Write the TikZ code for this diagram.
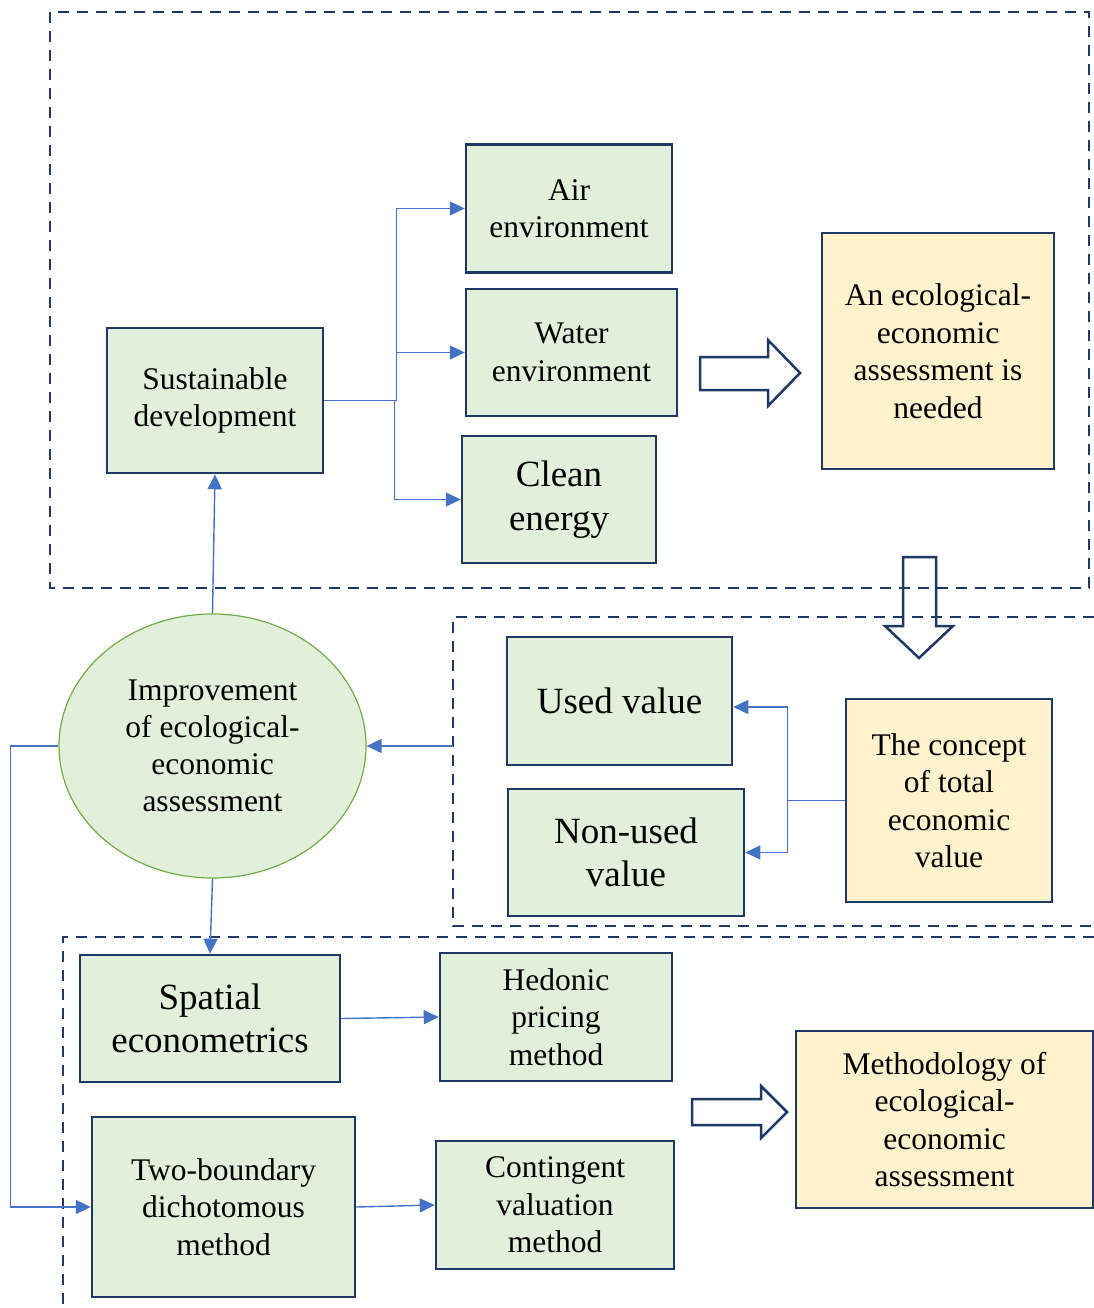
\documentclass[tikz,border=0pt]{standalone}
\usepackage{fontspec}
\setmainfont{Liberation Serif}
\usetikzlibrary{arrows.meta,shapes.geometric}
\definecolor{navy}{HTML}{1F3864}
\definecolor{lgreen}{HTML}{E2EFDA}
\definecolor{lyellow}{HTML}{FFF2CC}
\definecolor{cblue}{HTML}{4472C4}
\definecolor{egreen}{HTML}{70AD47}
\begin{document}
\begin{tikzpicture}[x=1pt,y=-1pt,
  gbox/.style={draw=navy, line width=2.5pt, fill=lgreen, align=center, inner sep=0pt,
    font=\fontsize{31.5}{37.5}\selectfont},
  ybox/.style={gbox, fill=lyellow},
  bigtext/.style={font=\fontsize{37}{43.5}\selectfont},
  conn/.style={draw=cblue, line width=1.4pt, -{Triangle[length=15pt,width=14pt]}},
  dashbox/.style={draw=navy, line width=2.7pt, dash pattern=on 11pt off 8pt},
  blockarrow/.style={draw=navy, line width=2.5pt, line join=miter}]
\useasboundingbox (0,0) rectangle (1094,1308);

% nodes
\node[gbox, minimum width=206pt, minimum height=128pt] (air) at (569,208.5) {Air\\environment};
\node[gbox, minimum width=211pt, minimum height=127pt] (water) at (571.5,352.5) {Water\\environment};
\node[gbox, bigtext, minimum width=194pt, minimum height=127pt] (clean) at (559,499.5) {Clean\\energy};
\node[gbox, minimum width=216pt, minimum height=145pt] (sus) at (215,400.5) {Sustainable\\development};
\node[ybox, minimum width=232pt, minimum height=236pt] (need) at (938,351) {An ecological-\\economic\\assessment is\\needed};
\node[ellipse, draw=egreen, line width=1.2pt, fill=lgreen, inner sep=0pt, align=center,
  minimum width=307pt, minimum height=264pt, font=\fontsize{31.5}{37}\selectfont] (ell) at (212.5,746)
  {Improvement\\of ecological-\\economic\\assessment};
\node[gbox, bigtext, minimum width=225pt, minimum height=128pt] (used) at (619.5,701) {Used value};
\node[gbox, bigtext, minimum width=236pt, minimum height=127pt] (nonused) at (626,852.5) {Non-used\\value};
\node[ybox, minimum width=206pt, minimum height=203pt] (concept) at (949,800.5) {The concept\\of total\\economic\\value};
\node[gbox, bigtext, minimum width=260pt, minimum height=127pt] (spatial) at (210,1018.5) {Spatial\\econometrics};
\node[gbox, minimum width=232pt, minimum height=128pt] (hedonic) at (556,1017) {Hedonic\\pricing\\method};
\node[gbox, minimum width=263pt, minimum height=180pt] (two) at (223.5,1207) {Two-boundary\\dichotomous\\method};
\node[gbox, minimum width=238pt, minimum height=128pt] (cont) at (555,1205) {Contingent\\valuation\\method};
\node[ybox, minimum width=297pt, minimum height=177pt] (meth) at (944.5,1119.5) {Methodology of\\ecological-\\economic\\assessment};

% block arrows
\draw[blockarrow] (700,357) -- (768,357) -- (768,340) -- (800,373) -- (768,406) -- (768,390) -- (700,390) -- cycle;
\draw[blockarrow] (903,557) -- (936,557) -- (936,626) -- (953,626) -- (919,658) -- (885,626) -- (903,626) -- cycle;
\draw[blockarrow] (692,1099) -- (761,1099) -- (761,1086) -- (787,1112) -- (761,1138) -- (761,1125) -- (692,1125) -- cycle;

% dashed frames
\draw[dashbox] (50,12) rectangle (1089,588);
\draw[dashbox] (1094,617) -- (453,617) -- (453,926) -- (1094,926);
\draw[dashbox] (1094,937) -- (63,937) -- (63,1308);

% connectors
\coordinate (m2) at (453,746);
\coordinate (uy) at (0,707);
\draw[conn] (sus.east) -- ++(72,0) |- (air.west);
\draw[conn] (sus.east) -- ++(72,0) |- (water.west);
\draw[conn] (sus.east) -- ++(70,0) |- (clean.west);
\draw[conn] (ell.north) -- (sus.south);
\draw[conn] (m2) -- (ell.east);
\draw[conn] (concept.west) -- ++(-57,0) |- (used.east |- uy);
\draw[conn] (concept.west) -- ++(-57,0) |- (nonused.east);
\draw[conn] (ell.south) -- (spatial.north);
\draw[conn] (ell.west) -- ++(-48,0) |- (two.west);
\draw[conn] (spatial.east) -- (hedonic.west);
\draw[conn] (two.east) -- (cont.west);
\end{tikzpicture}
\end{document}
